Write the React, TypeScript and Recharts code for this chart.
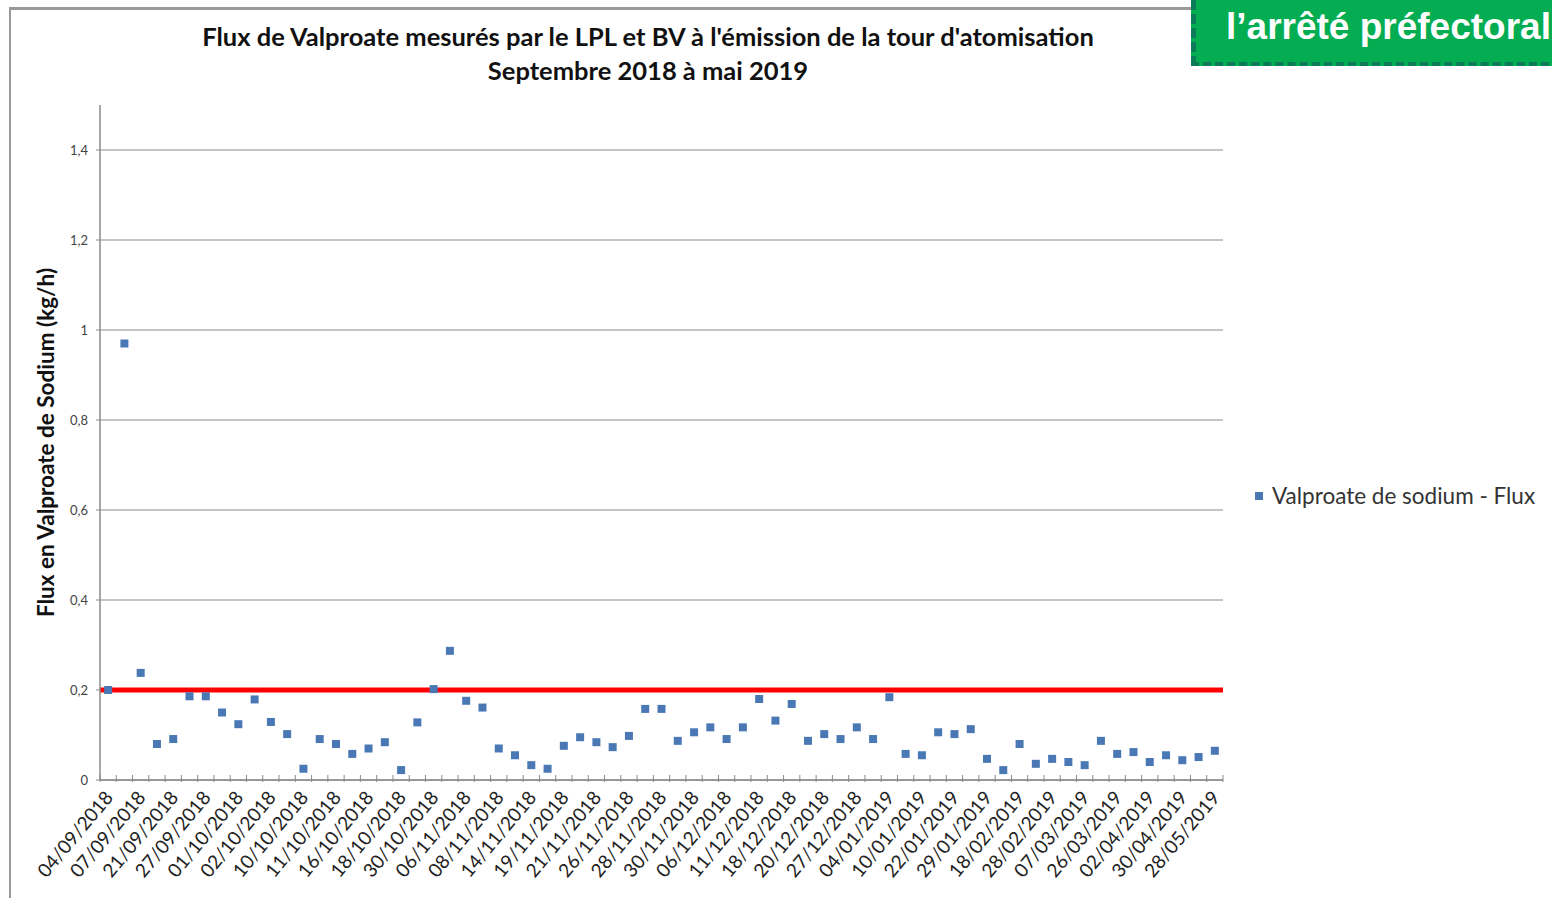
import {
  ScatterChart, Scatter, XAxis, YAxis, ZAxis, CartesianGrid, ReferenceLine,
} from 'recharts'

const dateLabels = [
  '04/09/2018', '07/09/2018', '21/09/2018', '27/09/2018', '01/10/2018', '02/10/2018',
  '10/10/2018', '11/10/2018', '16/10/2018', '18/10/2018', '30/10/2018', '06/11/2018',
  '08/11/2018', '14/11/2018', '19/11/2018', '21/11/2018', '26/11/2018', '28/11/2018',
  '30/11/2018', '06/12/2018', '11/12/2018', '18/12/2018', '20/12/2018', '27/12/2018',
  '04/01/2019', '10/01/2019', '22/01/2019', '29/01/2019', '18/02/2019', '28/02/2019',
  '07/03/2019', '26/03/2019', '02/04/2019', '30/04/2019', '28/05/2019',
]

// one measure per category, labels only shown on every other one
const flux = [
  0.2, 0.97, 0.238, 0.08, 0.091, 0.186, 0.186, 0.15, 0.124, 0.179,
  0.129, 0.102, 0.025, 0.091, 0.08, 0.058, 0.07, 0.084, 0.022, 0.128,
  0.202, 0.287, 0.176, 0.161, 0.07, 0.055, 0.033, 0.025, 0.076, 0.095,
  0.084, 0.073, 0.098, 0.158, 0.158, 0.087, 0.106, 0.117, 0.091, 0.117,
  0.18, 0.132, 0.169, 0.087, 0.102, 0.091, 0.117, 0.091, 0.184, 0.058,
  0.055, 0.106, 0.102, 0.113, 0.047, 0.022, 0.08, 0.036, 0.047, 0.04,
  0.033, 0.087, 0.058, 0.062, 0.04, 0.055, 0.044, 0.051, 0.065,
]

const yTicks = [0, 0.2, 0.4, 0.6, 0.8, 1, 1.2, 1.4]
const seuil = 0.2

const FONT = 'Lato, "Open Sans", sans-serif'
const GRAY = '#8a8a8a'
const BLUE = '#4a78b5'

const data = flux.map((v, i) => ({ x: i + 0.5, y: v }))
// category boundaries (tick marks) and centres (labels on every other one)
const xTicks = Array.from({ length: flux.length * 2 + 1 }, (_, i) => i / 2)

function DateTick({ x, y, payload }: any) {
  const v = payload.value as number
  if (Number.isInteger(v)) {
    return <line x1={x} x2={x} y1={y} y2={y - 7} stroke={GRAY} strokeWidth={1} />
  }
  const idx = v - 0.5
  if (idx % 2 !== 0) return null
  const lbl = dateLabels[idx / 2] ?? ''
  const tx = x + 6
  const ty = y + 16
  return (
    <text
      x={tx}
      y={ty}
      transform={`rotate(-50, ${tx}, ${ty})`}
      textAnchor="end"
      fontSize={19}
      fontFamily={FONT}
      fill="#222"
    >
      {lbl}
    </text>
  )
}

export default function App() {
  return (
    <div style={{ position: 'absolute', left: 0, top: 0, width: 1552, height: 898, background: '#fff', overflow: 'hidden' }}>
      <div style={{ position: 'absolute', left: 9, top: 7, width: 1560, height: 900, borderTop: '3px solid #999', borderLeft: '2px solid #999' }} />

      <div style={{ position: 'absolute', left: 0, width: 1296, top: 19, textAlign: 'center', fontFamily: FONT, fontWeight: 700, fontSize: 25.5, lineHeight: '34px', color: '#111' }}>
        Flux de Valproate mesurés par le LPL et BV à l'émission de la tour d'atomisation
        <br />
        Septembre 2018 à mai 2019
      </div>

      <ScatterChart width={1552} height={898} margin={{ top: 105, right: 329, bottom: 0, left: 0 }}>
        <CartesianGrid xAxisId="lbl" yAxisId="flux" vertical={false} horizontal syncWithTicks stroke={GRAY} strokeWidth={1} />
        <XAxis
          xAxisId="lbl"
          type="number"
          dataKey="x"
          domain={[0, flux.length]}
          ticks={xTicks}
          interval={0}
          tick={<DateTick />}
          tickLine={false}
          tickSize={0}
          axisLine={{ stroke: GRAY, strokeWidth: 1.5 }}
          height={118}
        />
        <YAxis
          yAxisId="flux"
          type="number"
          dataKey="y"
          domain={[0, 1.5]}
          ticks={yTicks}
          interval={0}
          width={100}
          tickSize={4}
          tickMargin={8}
          tickLine={{ stroke: GRAY }}
          axisLine={{ stroke: GRAY, strokeWidth: 1.5 }}
          tick={{ fontSize: 13, fontFamily: FONT, fill: '#444' }}
          tickFormatter={(v: number) => String(v).replace('.', ',')}
          label={{
            value: 'Flux en Valproate de Sodium (kg/h)',
            angle: -90,
            position: 'insideLeft',
            offset: 46,
            style: { textAnchor: 'middle', fontFamily: FONT, fontWeight: 700, fontSize: 22.5, fill: '#111' },
          }}
        />
        <ZAxis range={[120, 120]} />
        <ReferenceLine xAxisId="lbl" yAxisId="flux" y={seuil} stroke="#ff0000" strokeWidth={5} />
        <Scatter
          xAxisId="lbl"
          yAxisId="flux"
          data={data}
          name="Valproate de sodium - Flux"
          shape="square"
          fill={BLUE}
          isAnimationActive={false}
        />
      </ScatterChart>

      <div style={{ position: 'absolute', left: 1255, top: 482, display: 'flex', alignItems: 'center', fontFamily: FONT, fontSize: 22.5, color: '#333', whiteSpace: 'nowrap' }}>
        <span style={{ width: 8, height: 8, background: BLUE, display: 'inline-block', marginRight: 9 }} />
        Valproate de sodium - Flux
      </div>

      <div style={{
        position: 'absolute', left: 1191, top: 0, width: 370, height: 66, background: '#04ad52',
        borderBottom: '4px dashed #0d7a5a', borderLeft: '5px dashed #0d7a5a', boxSizing: 'border-box',
      }}>
        <div style={{ position: 'absolute', left: 30, top: 6, fontFamily: '"Liberation Sans", Arial, sans-serif', fontWeight: 700, fontSize: 37, color: '#fff', whiteSpace: 'nowrap' }}>
          l’arrêté préfectoral
        </div>
      </div>
    </div>
  )
}
